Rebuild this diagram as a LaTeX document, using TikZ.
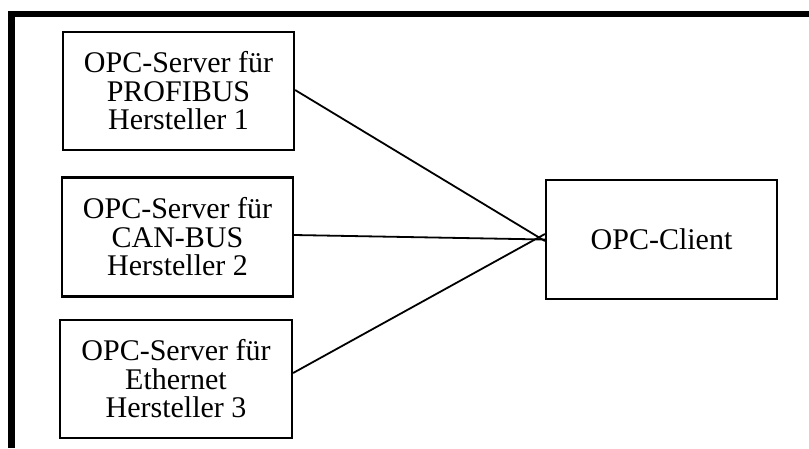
\documentclass[tikz,border=0pt]{standalone}
\usepackage{fontspec}
\setmainfont{Liberation Serif}
\begin{document}
\begin{tikzpicture}[x=1pt,y=-1pt,
  boxstyle/.style={draw=black,line width=2.2pt,fill=white,inner sep=0pt,align=center,
    font=\fontsize{30}{28.5}\selectfont},
  wire/.style={draw=black,line width=1.8pt},
  framestyle/.style={draw=black,line width=6.5pt}]
\useasboundingbox[fill=white] (0,0) rectangle (809,448);
% frame
\draw[framestyle] (11.5,448) -- (11.5,14) -- (809,14);
% server boxes
\node[boxstyle,minimum width=231pt,minimum height=118pt] (s1) at (178.5,91) {OPC-Server für\\PROFIBUS\\Hersteller 1};
\node[boxstyle,minimum width=231pt,minimum height=119pt] (s2) at (177.5,237) {OPC-Server für\\CAN-BUS\\Hersteller 2};
\node[boxstyle,minimum width=232pt,minimum height=118pt] (s3) at (176,379) {OPC-Server für\\Ethernet\\Hersteller 3};
\node[boxstyle,minimum width=231pt,minimum height=119pt] (c) at (661.5,239.5) {OPC-Client};
% connectors
\coordinate (c1) at ([yshift=-1.5pt]c.west);
\coordinate (c3) at ([yshift=5.5pt]c.west);
\draw[wire] ([yshift=1pt]s1.east) -- (c1);
\draw[wire] ([yshift=2pt]s2.east) -- (c.west);
\draw[wire] ([yshift=6pt]s3.east) -- (c3);
\end{tikzpicture}
\end{document}
